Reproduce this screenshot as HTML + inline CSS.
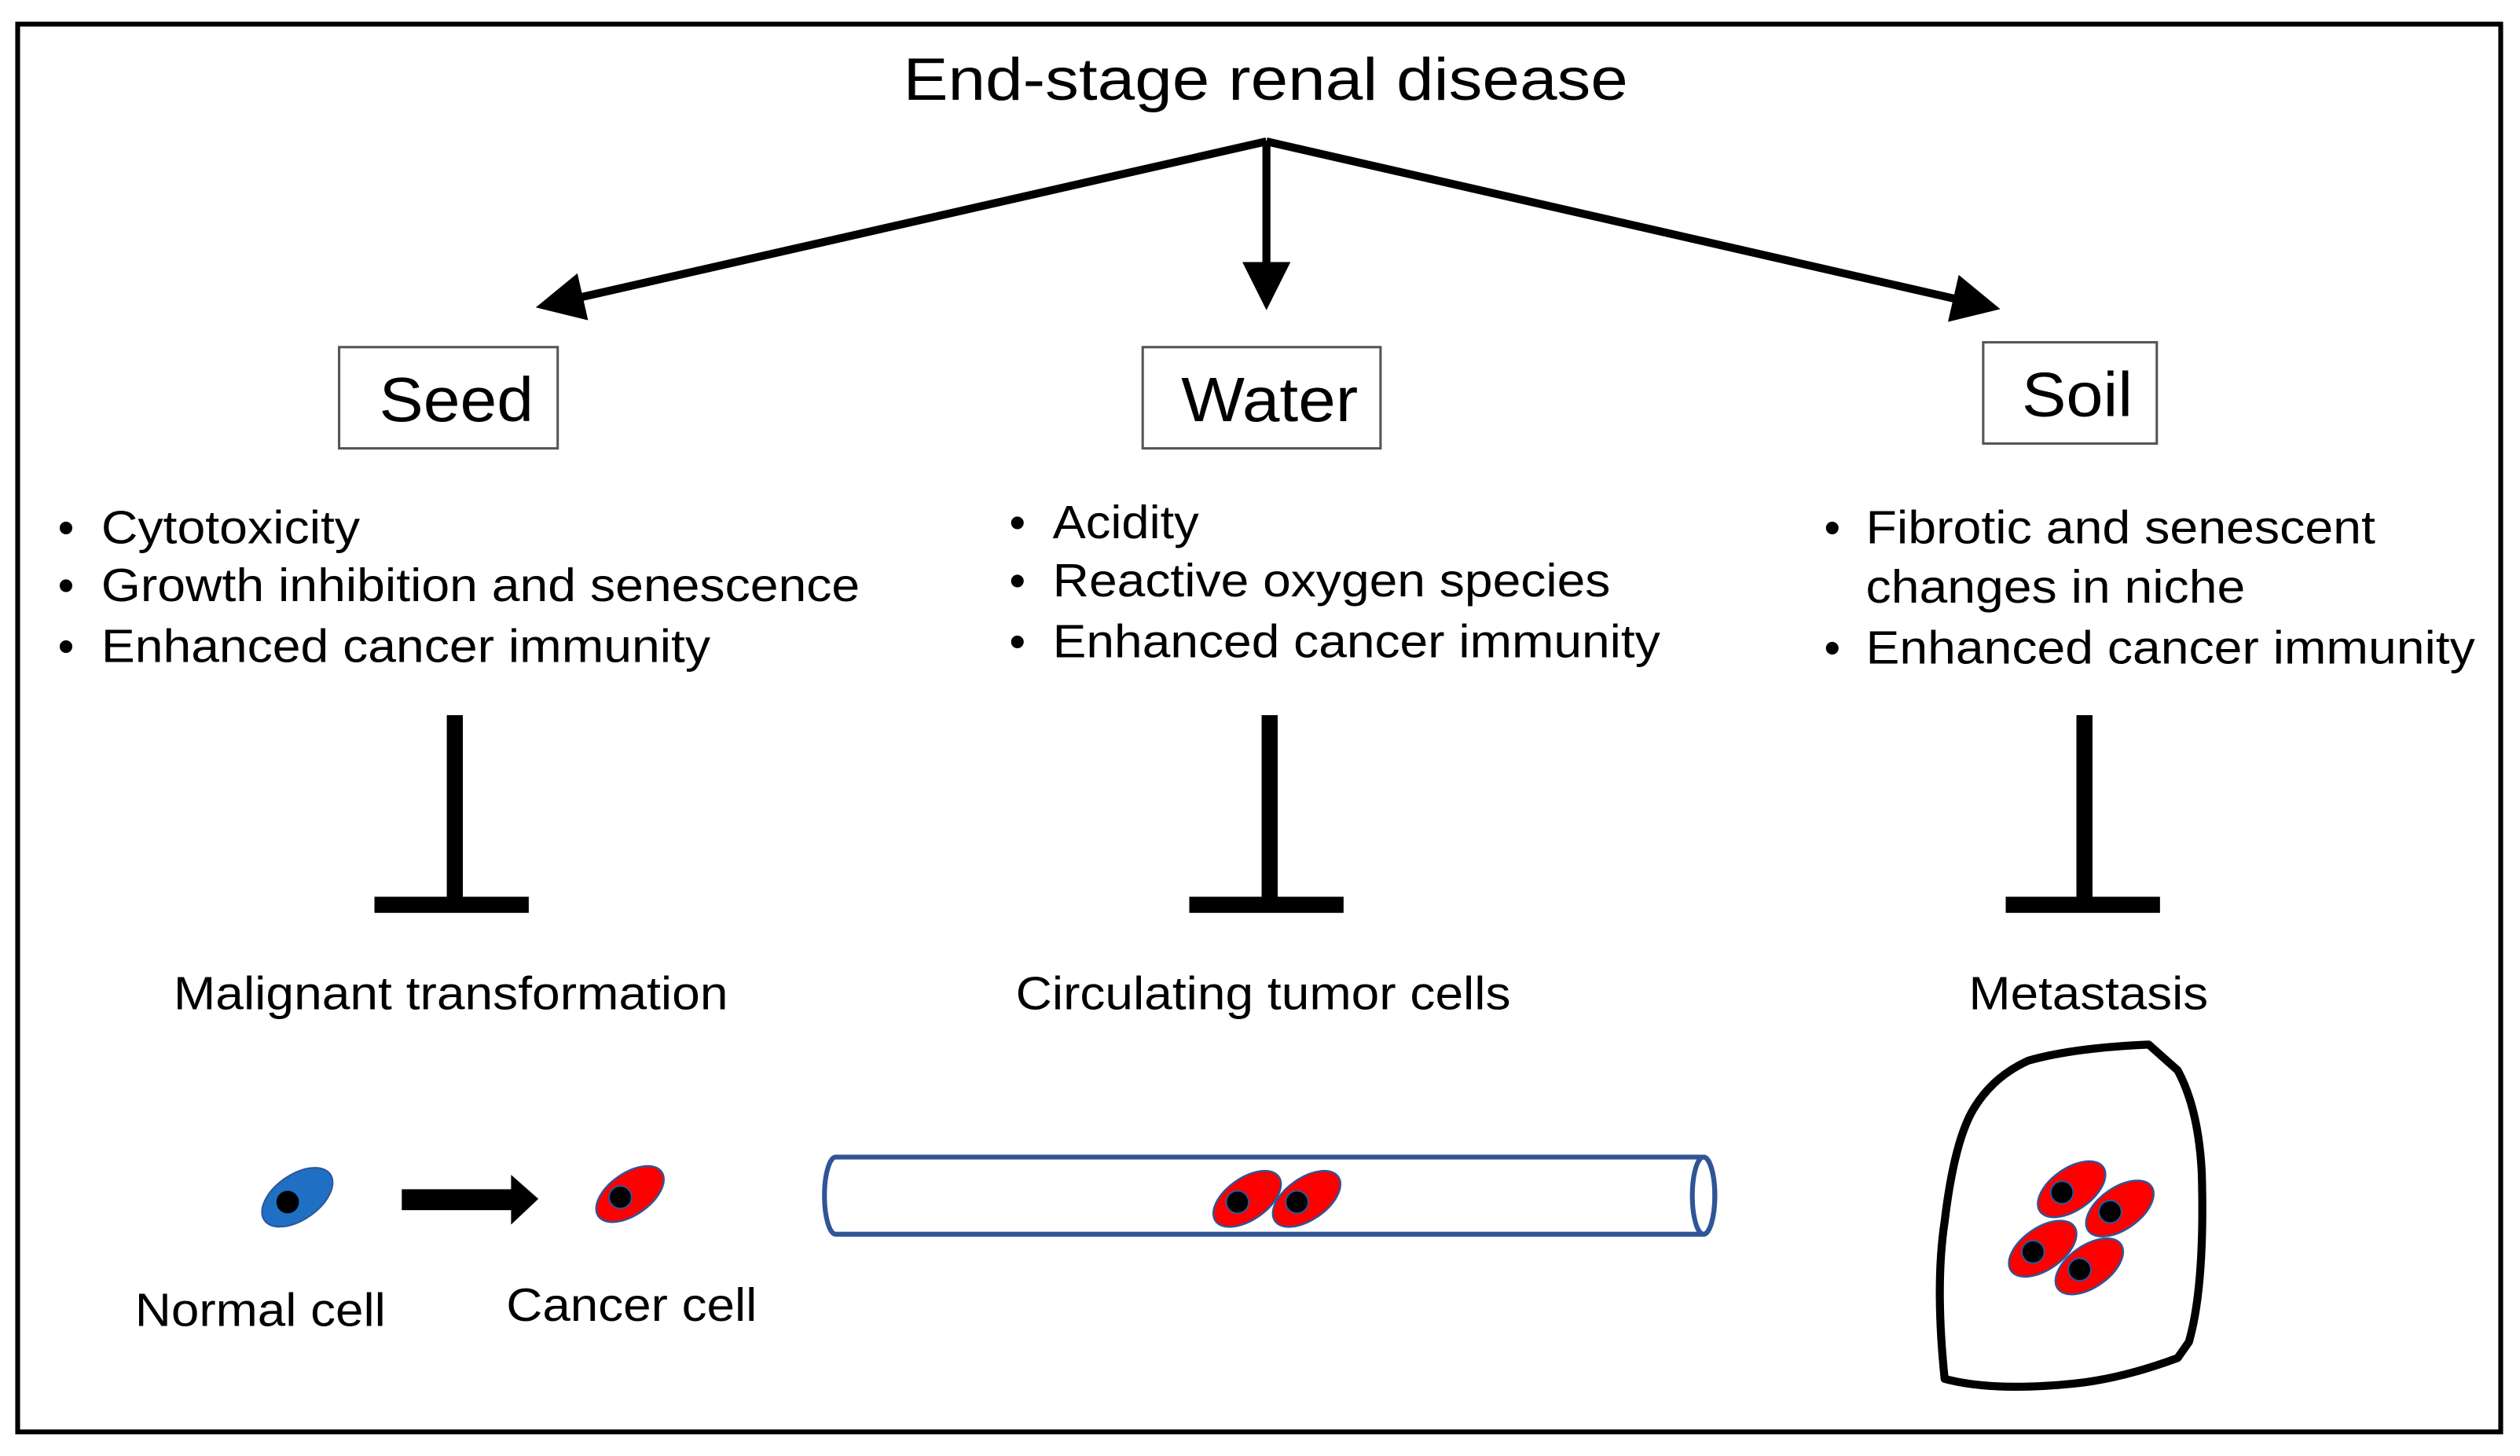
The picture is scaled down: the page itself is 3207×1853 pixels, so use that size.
<!DOCTYPE html>
<html><head><meta charset="utf-8"><style>
html,body{margin:0;padding:0;background:#fff;}
svg{display:block;}
text{font-family:"Liberation Sans",sans-serif;fill:#000;}
</style></head><body>
<svg width="3207" height="1853" viewBox="0 0 1568 906" preserveAspectRatio="none" xmlns="http://www.w3.org/2000/svg">
<defs>
<marker id="ah" markerWidth="6" markerHeight="6" refX="3" refY="3" orient="auto" markerUnits="strokeWidth">
<path d="M0,0 L6,3 L0,6 Z" fill="#000"/></marker>
<g id="cc"><ellipse cx="0" cy="0" rx="24" ry="13" fill="#f00" stroke="#2f5597" stroke-width="1.2" transform="rotate(-35)"/><circle cx="-6" cy="2" r="7" fill="#000" stroke="#2f5597" stroke-width="1"/></g>
</defs>
<rect x="11" y="15" width="1545" height="876" fill="#fff" stroke="#000" stroke-width="3"/>
<text x="562" y="62" font-size="37" textLength="451" lengthAdjust="spacingAndGlyphs">End-stage renal disease</text>
<g stroke="#000" stroke-width="5" fill="none">
<line x1="788" y1="88" x2="348" y2="188" marker-end="url(#ah)"/>
<line x1="788" y1="88" x2="788" y2="178" marker-end="url(#ah)"/>
<line x1="788" y1="88" x2="1230" y2="189" marker-end="url(#ah)"/>
</g>
<g fill="#fff" stroke="#555" stroke-width="1.5">
<rect x="211" y="216" width="136" height="63"/>
<rect x="711" y="216" width="148" height="63"/>
<rect x="1234" y="213" width="108" height="63"/>
</g>
<g font-size="39" lengthAdjust="spacingAndGlyphs">
<text x="236" y="262" textLength="96" lengthAdjust="spacingAndGlyphs">Seed</text>
<text x="735" y="262" textLength="110" lengthAdjust="spacingAndGlyphs">Water</text>
<text x="1258" y="259" textLength="69" lengthAdjust="spacingAndGlyphs">Soil</text>
</g>
<g font-size="29">
<text x="36" y="338">•</text><text x="63" y="338" textLength="161" lengthAdjust="spacingAndGlyphs">Cytotoxicity</text>
<text x="36" y="374">•</text><text x="63" y="374" textLength="472" lengthAdjust="spacingAndGlyphs">Growth inhibition and senescence</text>
<text x="36" y="412">•</text><text x="63" y="412" textLength="379" lengthAdjust="spacingAndGlyphs">Enhanced cancer immunity</text>
<text x="628" y="335">•</text><text x="655" y="335" textLength="91" lengthAdjust="spacingAndGlyphs">Acidity</text>
<text x="628" y="371">•</text><text x="655" y="371" textLength="347" lengthAdjust="spacingAndGlyphs">Reactive oxygen species</text>
<text x="628" y="409">•</text><text x="655" y="409" textLength="378" lengthAdjust="spacingAndGlyphs">Enhanced cancer immunity</text>
<text x="1135" y="338">•</text><text x="1161" y="338" textLength="317" lengthAdjust="spacingAndGlyphs">Fibrotic and senescent</text>
<text x="1161" y="375" textLength="236" lengthAdjust="spacingAndGlyphs">changes in niche</text>
<text x="1135" y="413">•</text><text x="1161" y="413" textLength="379" lengthAdjust="spacingAndGlyphs">Enhanced cancer immunity</text>
</g>
<g stroke="#000" stroke-width="10">
<line x1="283" y1="445" x2="283" y2="563"/><line x1="233" y1="563" x2="329" y2="563"/>
<line x1="790" y1="445" x2="790" y2="563"/><line x1="740" y1="563" x2="836" y2="563"/>
<line x1="1297" y1="445" x2="1297" y2="563"/><line x1="1248" y1="563" x2="1344" y2="563"/>
</g>
<g font-size="29">
<text x="108" y="628" textLength="345" lengthAdjust="spacingAndGlyphs">Malignant transformation</text>
<text x="632" y="628" textLength="308" lengthAdjust="spacingAndGlyphs">Circulating tumor cells</text>
<text x="1225" y="628" textLength="149" lengthAdjust="spacingAndGlyphs">Metastasis</text>
<text x="84" y="825" textLength="156" lengthAdjust="spacingAndGlyphs">Normal cell</text>
<text x="315" y="822" textLength="156" lengthAdjust="spacingAndGlyphs">Cancer cell</text>
</g>
<g transform="translate(185,745)"><ellipse rx="25" ry="14" fill="#1f6fc5" stroke="#2f5597" stroke-width="1" transform="rotate(-35)"/><circle cx="-6" cy="3" r="7" fill="#000"/></g>
<path d="M250,740 L318,740 L318,731 L335,746 L318,762 L318,753 L250,753 Z" fill="#000"/>
<g transform="translate(392,743)"><use href="#cc"/></g>
<path d="M520,720 L1060,720 A7,24 0 0 1 1060,768 L520,768 A7,24 0 0 1 520,720 Z" fill="#fff" stroke="#2f5597" stroke-width="3"/>
<ellipse cx="1060" cy="744" rx="7" ry="24" fill="none" stroke="#2f5597" stroke-width="3"/>
<g transform="translate(776,746)"><use href="#cc"/></g>
<g transform="translate(813,746)"><use href="#cc"/></g>
<path d="M1337,650 L1355,666 Q1368,690 1370,730 Q1372,800 1362,835 L1355,845 Q1320,858 1290,861 Q1240,866 1210,858 Q1204,800 1210,760 Q1216,710 1228,690 Q1240,670 1262,660 Q1290,652 1337,650 Z" fill="none" stroke="#000" stroke-width="5" stroke-linejoin="round"/>
<g transform="translate(1289,740)"><use href="#cc"/></g>
<g transform="translate(1319,752)"><use href="#cc"/></g>
<g transform="translate(1271,777)"><use href="#cc"/></g>
<g transform="translate(1300,788)"><use href="#cc"/></g>
</svg>
</body></html>
